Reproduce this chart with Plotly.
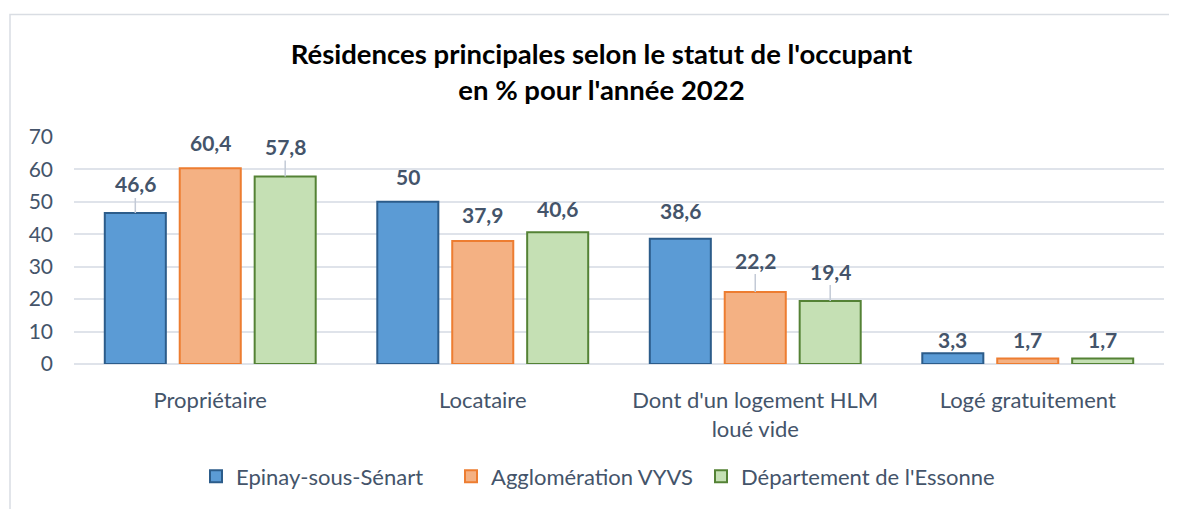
import plotly.graph_objects as go

# ---- data ----
categories = ["Propriétaire", "Locataire", "Dont d'un logement HLM<br>loué vide", "Logé gratuitement"]
series_names = ["Epinay-sous-Sénart", "Agglomération VYVS", "Département de l'Essonne"]
epinay = [46.6, 50, 38.6, 3.3]
agglo = [60.4, 37.9, 22.2, 1.7]
essonne = [57.8, 40.6, 19.4, 1.7]
y_ticks = [0, 10, 20, 30, 40, 50, 60, 70]

# ---- style ----
fills = ["#5B9BD5", "#F4B183", "#C5E0B4"]
borders = ["#2C5C8A", "#ED7D31", "#548235"]
slot = 0.275          # distance between bar centres (category units)
bar_w = 0.224         # bar width (category units)
centres = [-slot, 0, slot]
# label lift above bar top (px) and whether a leader line is drawn
lift = [[29, 25, 28, 14], [26, 27, 32, 19], [30, 24, 30, 19]]
leader = [[True, False, False, False], [False, False, True, False], [True, False, True, False]]
legend_left_px = [196, 451, 701]     # page x of each legend entry
text_col = "#44546A"
font = "Lato, 'Open Sans', sans-serif"

W, H = 1169, 501
PL, PT, PW, PH = 66, 129, 1090, 230   # plot area in figure px (page is offset by 8px)

values = [epinay, agglo, essonne]
xs = list(range(len(categories)))
legend_ids = ["legend", "legend2", "legend3"]

fig = go.Figure()
for s, (name, vals) in enumerate(zip(series_names, values)):
    fig.add_trace(go.Bar(
        x=xs, y=vals, name=name, legend=legend_ids[s], showlegend=True,
        width=bar_w, offset=centres[s] - bar_w / 2,
        marker=dict(color=fills[s], line=dict(color=borders[s], width=2)),
        hoverinfo="y+name",
    ))

annotations = []
for s, vals in enumerate(values):
    for i, v in enumerate(vals):
        annotations.append(dict(
            x=xs[i] + centres[s], y=v, xref="x", yref="y",
            text=f"{v:g}".replace(".", ","),
            showarrow=True, ax=0, ay=-lift[s][i], axref="pixel", ayref="pixel",
            arrowhead=0, arrowwidth=1.5, standoff=0,
            arrowcolor="#C3CAD6" if leader[s][i] else "rgba(0,0,0,0)",
            font=dict(family=font, size=21, color=text_col, weight="bold"),
        ))

legend_layout = {}
for s, lid in enumerate(legend_ids):
    legend_layout[lid] = dict(
        orientation="h", x=(legend_left_px[s] - 8 - PL) / PW, xanchor="left",
        y=(PT + PH - 473) / PH, yanchor="middle",
        font=dict(size=22, color=text_col), itemwidth=30,
        bgcolor="rgba(0,0,0,0)",
    )

fig.update_layout(
    width=W, height=H, autosize=False, showlegend=True,
    margin=dict(l=PL, r=W - PL - PW, t=PT, b=H - PT - PH),
    paper_bgcolor="white", plot_bgcolor="white",
    font=dict(family=font, color=text_col, size=21),
    title=dict(
        text="Résidences principales selon le statut de l'occupant<br>en % pour l'année 2022",
        x=593.5 / W, xanchor="center", y=1 - 56 / H, yanchor="top", xref="container", yref="container",
        font=dict(family=font, size=27.5, color="black", weight="bold"),
    ),
    barmode="group",
    xaxis=dict(
        range=[-0.5, 3.5], tickmode="array", tickvals=xs, ticktext=categories,
        showgrid=False, zeroline=False, showline=False, ticks="",
        tickfont=dict(size=22, color=text_col), ticklabelstandoff=21,
        fixedrange=True,
    ),
    yaxis=dict(
        range=[0, 70], tickmode="array", tickvals=y_ticks,
        showgrid=True, gridcolor="#DFE3EA", gridwidth=1.5,
        zeroline=True, zerolinecolor="#DFE3EA", zerolinewidth=1.5,
        showline=False, ticks="", tickfont=dict(size=21, color=text_col),
        ticklabelstandoff=20, fixedrange=True,
    ),
    annotations=annotations,
    shapes=[dict(
        type="rect", xref="paper", yref="paper",
        x0=(2 - PL) / PW, x1=(W + 40 - PL) / PW,
        y0=(PT + PH - H - 40) / PH, y1=(PT + PH - 5) / PH,
        line=dict(color="#D9DDE3", width=1.5), fillcolor="rgba(0,0,0,0)", layer="below",
    )],
    **legend_layout,
)

fig.write_html("out.html")
